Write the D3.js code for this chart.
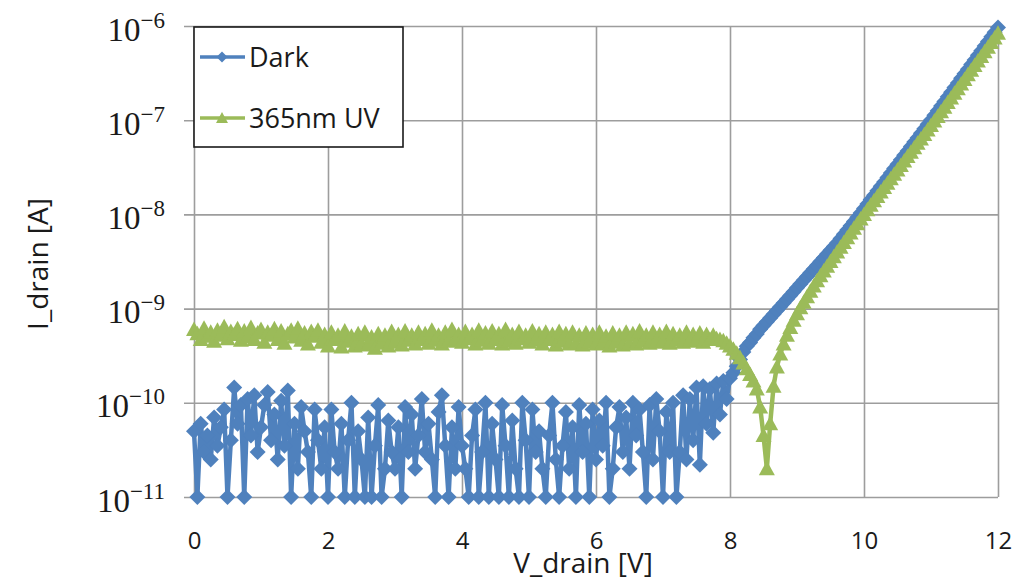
<!DOCTYPE html>
<html>
<head>
<meta charset="utf-8">
<script src="https://cdn.jsdelivr.net/npm/d3@7"></script>
<style>
  html, body { margin: 0; padding: 0; background: #fff; }
  svg { display: block; }
</style>
</head>
<body>
<svg id="chart" width="1017" height="581"></svg>
<script>
// Drain current vs. drain voltage; the sweep runs 0–12 V in 0.05 V steps.
const sweepStart = 0;
const sweepStep = 0.05;

// Measured drain current in the dark, pA
const darkPA = [
  50, 10, 60, 30, 45, 25, 70, 35, 55, 85,
  10, 40, 145, 60, 95, 10, 110, 45, 120, 30,
  55, 95, 130, 40, 75, 25, 105, 35, 135, 10,
  60, 20, 90, 50, 30, 10, 85, 40, 20, 55,
  10, 85, 30, 20, 60, 10, 40, 100, 10, 50,
  25, 10, 70, 10, 35, 95, 10, 20, 65, 30,
  20, 55, 10, 90, 30, 75, 20, 45, 110, 30,
  60, 25, 10, 80, 120, 35, 10, 55, 20, 90,
  35, 20, 10, 45, 85, 10, 30, 100, 10, 60,
  25, 10, 95, 35, 10, 65, 20, 10, 100, 40,
  10, 85, 30, 50, 20, 10, 45, 100, 25, 10,
  35, 80, 20, 55, 10, 95, 30, 60, 10, 85,
  25, 65, 35, 100, 10, 20, 55, 90, 30, 70,
  20, 100, 45, 85, 30, 10, 95, 25, 110, 50,
  10, 80, 30, 100, 10,
  30, 120, 25, 110, 40, 145, 22, 150, 60, 140, 48, 160, 75, 170, 110,
  182, 209, 245, 288, 347, 398, 437, 490, 537, 603,
  661, 724, 794, 871, 955, 1047, 1148, 1259, 1380, 1514,
  1660, 1820, 1995, 2188, 2399, 2630, 2884, 3162, 3467, 3802,
  4169, 4571, 5012, 5559, 6166, 6839, 7586, 8414, 9333, 10375,
  11560, 12880, 14350, 16000, 17820, 19860, 22130, 24660, 27480, 30620,
  34120, 38020, 42360, 47210, 52600, 58610, 65310, 72780, 81100, 90360,
  100700, 112700, 126200, 141300, 158100, 177000, 198200, 221800, 248300, 278000,
  311200, 348300, 389900, 436500, 488700, 547000, 612400, 685500, 767400, 859000,
  961600
];

// Measured drain current under 365 nm UV illumination, pA (magnitude)
const uvPA = [
  600, 540, 470, 620, 510, 560, 450, 590, 520, 640,
  480, 570, 530, 610, 460, 580, 500, 630, 470, 550,
  600, 440, 560, 520, 610, 470, 580, 430, 540, 590,
  500, 620, 460, 550, 420, 570, 510, 590, 440, 530,
  400, 560, 470, 520, 390, 580, 450, 510, 400, 540,
  420, 560, 410, 500, 380, 540, 430, 520, 400, 570,
  440, 530, 410, 580, 460, 520, 420, 560, 470, 540,
  430, 590, 460, 520, 420, 560, 450, 600, 470, 530,
  440, 570, 480, 530, 420, 590, 460, 550, 430, 580,
  470, 540, 420, 600, 450, 530, 430, 570, 480, 520,
  440, 580, 460, 540, 420, 560, 470, 530, 410, 570,
  450, 540, 420, 560, 430, 520, 410, 550, 440, 530,
  420, 560, 430, 510, 400, 550, 440, 520, 410, 560,
  430, 540, 420, 580, 450, 520, 430, 560, 440, 530,
  450, 570, 430, 540, 460, 520, 440, 560, 450, 530,
  460, 550, 440, 530, 470, 520, 480,
  470, 455, 430, 400, 370, 335, 300, 265, 230, 200,
  170, 140, 90, 45, 20, 60, 150, 240, 330, 420,
  520, 630, 750, 880,
  1020, 1170, 1340, 1530, 1740, 1970, 2230, 2510, 2820, 3170,
  3560, 4000, 4490, 5040, 5660, 6350, 7130, 7960, 8910, 9960,
  11200, 12480, 13920, 15500, 17280, 19250, 21450, 23910, 26640, 29680,
  33080, 36850, 41070, 45760, 50990, 56820, 63320, 70560, 78610, 87600,
  98000, 109800, 122900, 137500, 154000, 172400, 193000, 216000, 241900, 270700,
  303000, 339200, 379800, 425200, 475900, 532800, 596400, 667600, 747300, 836600
];

const seriesNames = ["Dark", "365nm UV"];
const seriesColors = ["#4F81BD", "#9BBB59"];
const xTickValues = [0, 2, 4, 6, 8, 10, 12];
const yExponents = [-11, -10, -9, -8, -7, -6];
const xTitle = "V_drain [V]";
const yTitle = "I_drain [A]";

const PA = 1e-12;
const toPoints = arr => arr.map((v, i) => ({ v: sweepStart + i * sweepStep, i: v * PA }));
const series = [
  { name: seriesNames[0], color: seriesColors[0], marker: "diamond", pts: toPoints(darkPA) },
  { name: seriesNames[1], color: seriesColors[1], marker: "triangle", pts: toPoints(uvPA) }
];

const svg = d3.select("#chart");
const plotLeft = 194, plotTop = 26, plotW = 804, plotH = 471;

const x = d3.scaleLinear().domain([0, 12]).range([0, plotW]);
const y = d3.scaleLog().domain([1e-11, 1e-6]).range([plotH, 0]);

const g = svg.append("g").attr("transform", `translate(${plotLeft},${plotTop})`);

const gridColor = "#9d9d9d";

// vertical grid + x labels
const xAxis = d3.axisBottom(x)
  .tickValues(xTickValues)
  .tickSize(-plotH)
  .tickPadding(35)
  .tickFormat(d3.format("d"));
const gx = g.append("g").attr("transform", `translate(0,${plotH})`).call(xAxis);
gx.select(".domain").remove();
gx.selectAll(".tick line").attr("stroke", gridColor).attr("stroke-width", 1.6);
gx.selectAll(".tick text")
  .attr("fill", "#1a1a1a")
  .style("font-family", "'Open Sans', sans-serif")
  .style("font-size", "24px");

// horizontal grid + decade labels
const yAxis = d3.axisLeft(y)
  .tickValues(yExponents.map(e => Math.pow(10, e)))
  .tickSize(-plotW)
  .tickFormat("");
const gy = g.append("g").call(yAxis);
gy.select(".domain").remove();
gy.selectAll(".tick line")
  .attr("x1", -10)
  .attr("stroke", gridColor).attr("stroke-width", 1.6);
gy.selectAll(".tick text").remove();
gy.selectAll(".tick").each(function (d) {
  const e = Math.round(Math.log10(d));
  const t = d3.select(this).append("text")
    .attr("x", -29).attr("y", 14)
    .attr("text-anchor", "end")
    .attr("fill", "#1a1a1a")
    .style("font-family", "'Liberation Serif', serif");
  t.append("tspan").style("font-size", "33px").text("10");
  t.append("tspan").attr("dy", -13).style("font-size", "23px").text("\u2212" + Math.abs(e));
});

// series: connecting line under filled markers
const markerPath = {
  diamond: "M0,-8L8,0L0,8L-8,0Z",
  triangle: "M0,-8L8,6.5L-8,6.5Z"
};
const line = d3.line().x(d => x(d.v)).y(d => y(d.i));

series.forEach(s => {
  const sg = g.append("g");
  sg.append("path")
    .attr("d", line(s.pts))
    .attr("fill", "none")
    .attr("stroke", s.color)
    .attr("stroke-width", 4.5)
    .attr("stroke-linejoin", "round");
  sg.selectAll("path.mk").data(s.pts).join("path")
    .attr("class", "mk")
    .attr("d", markerPath[s.marker])
    .attr("transform", d => `translate(${x(d.v)},${y(d.i)})`)
    .attr("fill", s.color);
});

// legend
const lg = svg.append("g").attr("transform", "translate(194,27)");
lg.append("rect")
  .attr("width", 209).attr("height", 120)
  .attr("fill", "#fff").attr("stroke", "#1a1a1a").attr("stroke-width", 1.6);
const legendMarker = {
  diamond: "M0,-5.5L5.5,0L0,5.5L-5.5,0Z",
  triangle: "M0,-6L6,5L-6,5Z"
};
series.forEach((s, k) => {
  const cy = 30 + k * 61;
  lg.append("line").attr("x1", 6).attr("x2", 51).attr("y1", cy).attr("y2", cy)
    .attr("stroke", s.color).attr("stroke-width", 3.5);
  lg.append("path").attr("d", legendMarker[s.marker])
    .attr("transform", `translate(28,${cy})`).attr("fill", s.color);
  lg.append("text").attr("x", 55).attr("y", cy).attr("dy", "0.36em")
    .attr("fill", "#1a1a1a")
    .style("font-family", "'Open Sans', sans-serif")
    .style("font-size", "27px")
    .text(s.name);
});

// axis titles
svg.append("text")
  .attr("x", 583).attr("y", 573)
  .attr("text-anchor", "middle")
  .attr("fill", "#1a1a1a")
  .style("font-family", "'Open Sans', sans-serif")
  .style("font-size", "28px")
  .text(xTitle);

svg.append("text")
  .attr("transform", "translate(48,264) rotate(-90)")
  .attr("text-anchor", "middle")
  .attr("fill", "#1a1a1a")
  .style("font-family", "'Open Sans', sans-serif")
  .style("font-size", "28px")
  .text(yTitle);
</script>
</body>
</html>
